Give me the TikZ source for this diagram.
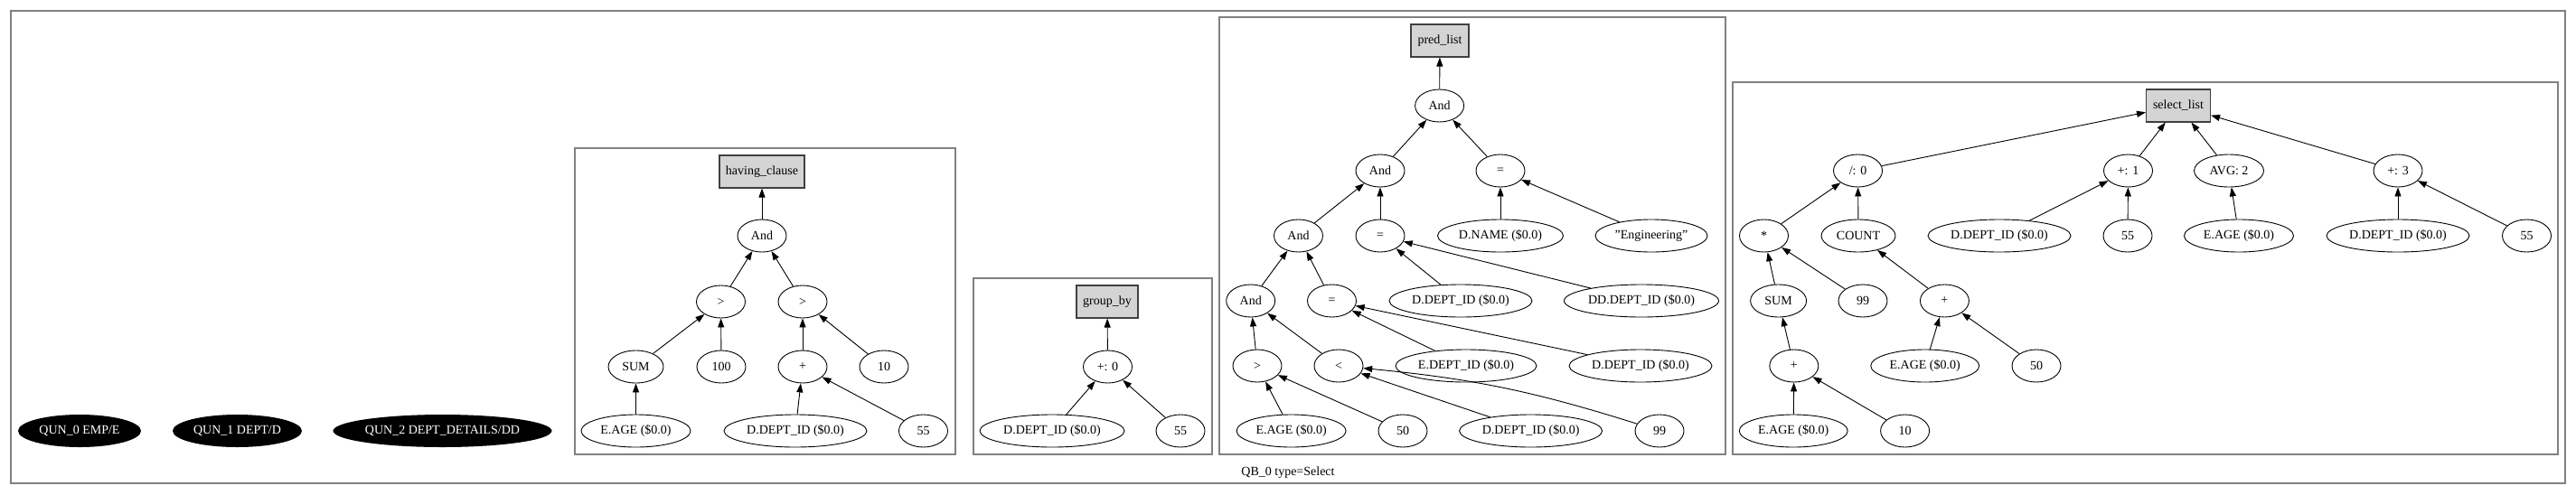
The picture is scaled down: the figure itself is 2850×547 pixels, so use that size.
\documentclass[tikz,border=0pt]{standalone}
\usepackage{fontspec}
\setmainfont{Liberation Serif}
\usetikzlibrary{arrows.meta,shapes.geometric}

\begin{document}
\begin{tikzpicture}[x=1pt,y=-1pt,>={Triangle[length=10pt,width=7pt]},font=\fontsize{14}{16}\selectfont]

  \tikzstyle{expr}=[ellipse,draw=black,line width=0.9pt,inner sep=0pt,minimum width=54pt,minimum height=36pt]
  \tikzstyle{wide}=[expr,minimum width=158pt]
  \tikzstyle{age}=[expr,minimum width=121pt]
  \tikzstyle{listbox}=[rectangle,draw=black!75,line width=1.1pt,fill=black!17,minimum height=36pt,inner sep=0pt]
  \tikzstyle{qun}=[ellipse,fill=black,text=white,inner sep=0pt,minimum height=36pt]
  \tikzstyle{qbbox}=[draw=black!50,line width=1.4pt]
  \tikzstyle{feeds}=[->,black,line width=0.9pt]

  \path[fill=white] (0,0) rectangle (2850,547);
  \useasboundingbox (0,0) rectangle (2850,547);

  % outer block and its clusters
  \draw[qbbox] (12,12) rectangle (2838,535);
  \draw[qbbox] (636,164) rectangle (1057,503);
  \draw[qbbox] (1077,308) rectangle (1341,503);
  \draw[qbbox] (1349,19) rectangle (1909,503);
  \draw[qbbox] (1917,91) rectangle (2830,503);
  \node (qb) at (1425,523) {QB\_0 type=Select};

  % quantifiers
  \node[qun,minimum width=136pt] (qun0) at (88,477) {QUN\_0 EMP/E};
  \node[qun,minimum width=143pt] (qun1) at (262.5,477) {QUN\_1 DEPT/D};
  \node[qun,minimum width=240pt] (qun2) at (489.5,477) {QUN\_2 DEPT\_DETAILS/DD};

  % having_clause
  \path (843,190)   node[listbox,minimum width=94pt] (hc) {having\_clause}
        (843,261)   node[expr]  (hAnd)  {And}  edge[feeds] (hc)
        (797.5,334) node[expr]  (hGtL)  {>}    edge[feeds] (hAnd)
        (888,334)   node[expr]  (hGtR)  {>}    edge[feeds] (hAnd)
        (703.5,406) node[expr,minimum width=61pt] (hSum) {SUM} edge[feeds] (hGtL)
        (798,406)   node[expr]  (h100)  {100}  edge[feeds] (hGtL)
        (888,406)   node[expr]  (hPlus) {+}    edge[feeds] (hGtR)
        (978,406)   node[expr]  (h10)   {10}   edge[feeds] (hGtR)
        (703.5,477) node[age]   (hAge)  {E.AGE (\$0.0)}     edge[feeds] (hSum)
        (880,477)   node[wide]  (hDept) {D.DEPT\_ID (\$0.0)} edge[feeds] (hPlus)
        (1021.5,477) node[expr] (h55)   {55}   edge[feeds] (hPlus);

  % group_by
  \path (1225,334)   node[listbox,minimum width=68pt] (gb) {group\_by}
        (1225.5,406) node[expr]  (gPlus) {+: 0} edge[feeds] (gb)
        (1164,477)   node[wide,minimum width=160pt] (gDept) {D.DEPT\_ID (\$0.0)} edge[feeds] (gPlus)
        (1306,477)   node[expr]  (g55)   {55}   edge[feeds] (gPlus);

  % pred_list
  \path (1593,45)    node[listbox,minimum width=64pt] (pl) {pred\_list}
        (1592.6,117) node[expr] (pAnd1) {And} edge[feeds] (pl)
        (1527,189)   node[expr] (pAnd2) {And} edge[feeds] (pAnd1)
        (1660,189)   node[expr] (pEqA)  {=}   edge[feeds] (pAnd1)
        (1436.5,261) node[expr] (pAnd3) {And} edge[feeds] (pAnd2)
        (1527,261)   node[expr] (pEqB)  {=}   edge[feeds] (pAnd2)
        (1660,261)   node[expr,minimum width=139pt] (pName) {D.NAME (\$0.0)} edge[feeds] (pEqA)
        (1827,261)   node[expr,minimum width=124pt] (pEng)  {"Engineering"}  edge[feeds] (pEqA)
        (1383.7,333) node[expr] (pAnd4) {And} edge[feeds] (pAnd3)
        (1473.5,333) node[expr] (pEqC)  {=}   edge[feeds] (pAnd3)
        (1616,333)   node[wide] (pDeptA) {D.DEPT\_ID (\$0.0)} edge[feeds] (pEqB)
        (1816,333)   node[expr,minimum width=171pt] (pDD) {DD.DEPT\_ID (\$0.0)} edge[feeds] (pEqB)
        (1391,405)   node[expr] (pGt)   {>}   edge[feeds] (pAnd4)
        (1481,405)   node[expr] (pLt)   {<}   edge[feeds] (pAnd4)
        (1622,405)   node[expr,minimum width=156pt] (pEDept) {E.DEPT\_ID (\$0.0)} edge[feeds] (pEqC)
        (1815,405)   node[wide] (pDeptB) {D.DEPT\_ID (\$0.0)} edge[feeds] (pEqC)
        (1428.6,477) node[age]  (pAge)  {E.AGE (\$0.0)} edge[feeds] (pGt)
        (1552,477)   node[expr] (p50)   {50}  edge[feeds] (pGt)
        (1693.6,477) node[wide] (pDeptC) {D.DEPT\_ID (\$0.0)} edge[feeds] (pLt)
        (1836,477)   node[expr] (p99)   {99}  edge[feeds,bend right=6] (pLt);

  % select_list
  \path (2410,117)    node[listbox,minimum width=71pt] (sl) {select\_list}
        (2055.5,189)  node[expr] (sDiv)  {/: 0}  edge[feeds] (sl)
        (2354.5,189)  node[expr] (sP1)   {+: 1}  edge[feeds] (sl)
        (2466,189)    node[expr,minimum width=77pt] (sAvg) {AVG: 2} edge[feeds] (sl)
        (2653,189)    node[expr] (sP3)   {+: 3}  edge[feeds] (sl)
        (1951.5,261)  node[expr] (sMul)  {*}     edge[feeds] (sDiv)
        (2056,261)    node[expr,minimum width=82pt] (sCount) {COUNT} edge[feeds] (sDiv)
        (2212,261)    node[wide] (sDeptA) {D.DEPT\_ID (\$0.0)} edge[feeds] (sP1)
        (2354,261)    node[expr] (s55a)  {55}    edge[feeds] (sP1)
        (2477,261)    node[age]  (sAgeA) {E.AGE (\$0.0)} edge[feeds] (sAvg)
        (2653,261)    node[wide] (sDeptB) {D.DEPT\_ID (\$0.0)} edge[feeds] (sP3)
        (2795.5,261)  node[expr] (s55b)  {55}    edge[feeds] (sP3)
        (1967.6,333)  node[expr,minimum width=62pt] (sSum) {SUM} edge[feeds] (sMul)
        (2061,333)    node[expr] (s99)   {99}    edge[feeds] (sMul)
        (2151.4,333)  node[expr] (sPlusA) {+}    edge[feeds] (sCount)
        (1984.8,405)  node[expr] (sPlusB) {+}    edge[feeds] (sSum)
        (2129.7,405)  node[age,minimum width=120pt] (sAgeB) {E.AGE (\$0.0)} edge[feeds] (sPlusA)
        (2253,405)    node[expr] (s50)   {50}    edge[feeds] (sPlusA)
        (1984.2,477)  node[age,minimum width=120pt] (sAgeC) {E.AGE (\$0.0)} edge[feeds] (sPlusB)
        (2107.6,477)  node[expr] (s10)   {10}    edge[feeds] (sPlusB);

\end{tikzpicture}
\end{document}
